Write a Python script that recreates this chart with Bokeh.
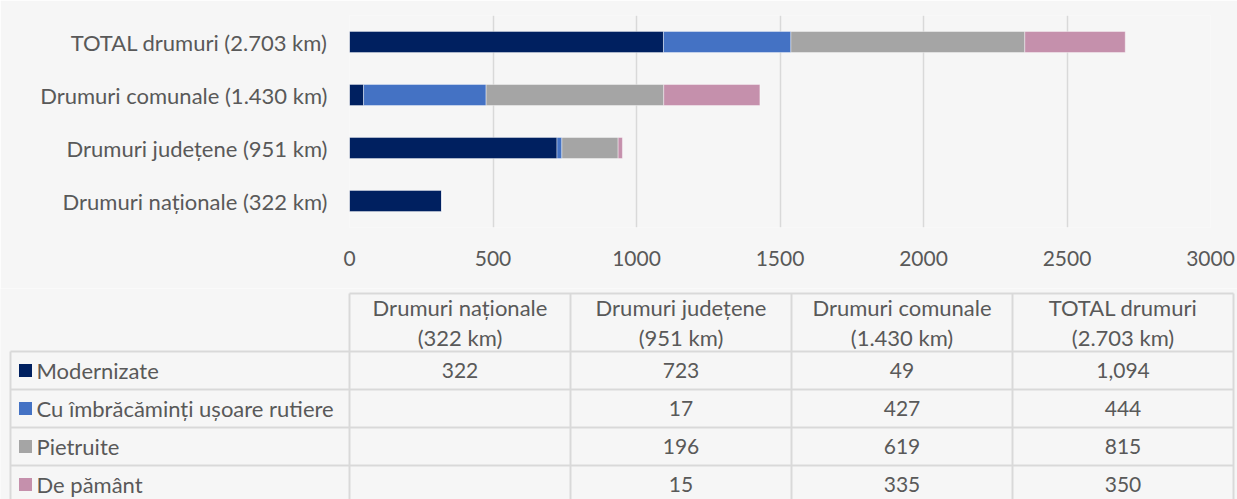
from bokeh.plotting import figure
from bokeh.models import ColumnDataSource, Range1d, FixedTicker
from bokeh.layouts import column
from bokeh.embed import file_html
from bokeh.resources import INLINE
from bokeh.core.properties import value

# ---------------- data ----------------
categories = ["Drumuri naționale (322 km)", "Drumuri județene (951 km)",
              "Drumuri comunale (1.430 km)", "TOTAL drumuri (2.703 km)"]
header_line1 = ["Drumuri naționale", "Drumuri județene", "Drumuri comunale", "TOTAL drumuri"]
header_line2 = ["(322 km)", "(951 km)", "(1.430 km)", "(2.703 km)"]
series_names = ["Modernizate", "Cu îmbrăcăminți ușoare rutiere", "Pietruite", "De pământ"]
modernizate = [322, 723, 49, 1094]
usoare = [None, 17, 427, 444]
pietruite = [None, 196, 619, 815]
pamant = [None, 15, 335, 350]
x_ticks = [0, 500, 1000, 1500, 2000, 2500, 3000]
colors = ["#002060", "#4472C4", "#A5A5A5", "#C590AC"]

FONT = "Lato"
TXT = "#595959"
BG = "#f6f6f6"
GRID = "#d9d9d9"
WORD_SIZE = "22px"
NUM_SIZE = "21px"

series_values = [modernizate, usoare, pietruite, pamant]

# ---------------- bar chart ----------------
W = 1237
H1 = 288
src = ColumnDataSource(dict(cat=categories,
                            **{f"s{i}": [v if v is not None else 0 for v in vals]
                               for i, vals in enumerate(series_values)}))

p = figure(y_range=categories, x_range=Range1d(0, 3000), width=W, height=H1,
           output_backend="svg", toolbar_location=None,
           min_border_left=349, min_border_right=27, min_border_top=15, min_border_bottom=61,
           background_fill_color=BG, border_fill_color=BG, outline_line_color=None)
p.frame_align = False
p.hbar_stack([f"s{i}" for i in range(4)], y="cat", height=0.4, color=colors,
             line_color="white", line_width=0.6, line_alpha=0.7, source=src)
p.y_range.range_padding = 0
p.ygrid.visible = False
p.xgrid.grid_line_color = GRID
p.xgrid.grid_line_width = 1.5
p.xaxis.ticker = FixedTicker(ticks=x_ticks)
for ax in (p.xaxis[0], p.yaxis[0]):
    ax.axis_line_color = None
    ax.major_tick_line_color = None
    ax.minor_tick_line_color = None
    ax.major_label_text_font = FONT
    ax.major_label_text_color = TXT
p.xaxis.major_label_text_font_size = NUM_SIZE
p.yaxis.major_label_text_font_size = WORD_SIZE
p.xaxis.major_label_standoff = 17
p.yaxis.major_label_standoff = 16

# ---------------- data table ----------------
H2 = 499 - H1
t = figure(width=W, height=H2, x_range=Range1d(0, W), y_range=Range1d(H2, 0),
           output_backend="svg", toolbar_location=None, min_border=0,
           background_fill_color=BG, border_fill_color=BG, outline_line_color=None)
t.frame_align = False
t.axis.visible = False
t.grid.visible = False

left_edge = 10
col0 = 349
right_edge = 1233
ncol = len(header_line1)
cw = (right_edge - col0) / ncol
col_x = [col0 + cw * i for i in range(ncol + 1)]
header_top = 5
header_bottom = 63
row_h = 38
row_lines = [header_bottom + row_h * i for i in range(len(series_names) + 1)]

x0s, y0s, x1s, y1s = [], [], [], []
x0s.append(col0); y0s.append(header_top); x1s.append(right_edge); y1s.append(header_top)
for y in row_lines:
    x0s.append(left_edge); y0s.append(y); x1s.append(right_edge); y1s.append(y)
x0s.append(left_edge); y0s.append(header_bottom); x1s.append(left_edge); y1s.append(H2 + 20)
for x in col_x:
    x0s.append(x); y0s.append(header_top); x1s.append(x); y1s.append(H2 + 20)
t.segment(x0=x0s, y0=y0s, x1=x1s, y1=y1s, line_color=GRID, line_width=2)

col_centers = [col0 + cw * (i + 0.5) for i in range(ncol)]
t.text(x=col_centers, y=[19] * ncol, text=header_line1, text_align="center",
       text_baseline="middle", text_font=value(FONT), text_font_size=WORD_SIZE, text_color=TXT)
t.text(x=col_centers, y=[49] * ncol, text=header_line2, text_align="center",
       text_baseline="middle", text_font=value(FONT), text_font_size=WORD_SIZE, text_color=TXT)

row_centers = [header_bottom + row_h * (i + 0.5) for i in range(len(series_names))]
t.rect(x=[25] * 4, y=row_centers, width=13, height=13, fill_color=colors, line_color=None)
t.text(x=[36] * 4, y=row_centers, text=series_names, text_align="left",
       text_baseline="middle", text_font=value(FONT), text_font_size=WORD_SIZE, text_color=TXT)

cx, cy, ctext = [], [], []
for r, vals in enumerate(series_values):
    for c, v in enumerate(vals):
        if v is None:
            continue
        cx.append(col_centers[c]); cy.append(row_centers[r]); ctext.append(f"{v:,}")
t.text(x=cx, y=cy, text=ctext, text_align="center", text_baseline="middle",
       text_font=value(FONT), text_font_size=NUM_SIZE, text_color=TXT)

layout = column(p, t, spacing=0)
open("out.html", "w").write(file_html(layout, INLINE))
